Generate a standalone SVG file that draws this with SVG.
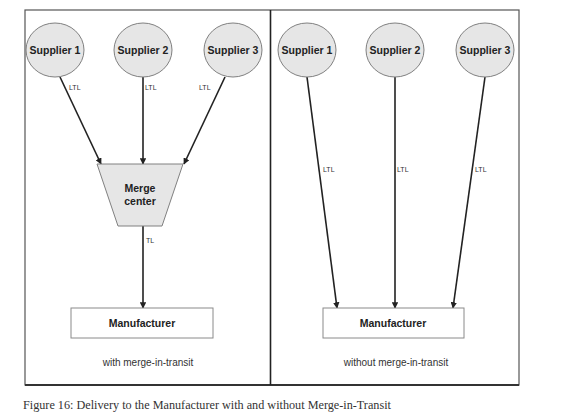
<svg xmlns="http://www.w3.org/2000/svg" width="571" height="420" viewBox="0 0 571 420">
<defs>
<style>
.sup{fill:#e6e6e6;stroke:#808080;stroke-width:1}
.box{fill:#fff;stroke:#8a8a8a;stroke-width:1}
.bt{font-family:"Liberation Sans",Arial,sans-serif;font-weight:bold;font-size:10.5px;fill:#222;text-anchor:middle}
.lbl{font-family:"Liberation Sans",Arial,sans-serif;font-size:7px;fill:#333}
.cap{font-family:"Liberation Sans",Arial,sans-serif;font-size:10px;fill:#333;text-anchor:middle}
.edge{stroke:#222;stroke-width:1.6;fill:none;marker-end:url(#ah)}
</style>
<marker id="ah" viewBox="0 0 10 10" refX="9" refY="5" markerWidth="4" markerHeight="4" orient="auto" markerUnits="strokeWidth">
<path d="M0,0 L10,5 L0,10 z" fill="#222"/>
</marker>
</defs>
<rect x="0" y="0" width="571" height="420" fill="#fff"/>
<g id="frame">
<rect x="25" y="10" width="494" height="375" fill="none" stroke="#555" stroke-width="1.2"/>
<line x1="25" y1="385" x2="519" y2="385" stroke="#333" stroke-width="1.8"/>
<line x1="270.5" y1="10" x2="270.5" y2="385" stroke="#222" stroke-width="1.6"/>
</g>
<g id="connectors">
<line class="edge" x1="60" y1="77" x2="101" y2="164"/>
<line class="edge" x1="143" y1="77" x2="143" y2="164"/>
<line class="edge" x1="225" y1="77" x2="184" y2="164"/>
<line class="edge" x1="143" y1="226" x2="143" y2="308"/>
<line class="edge" x1="307" y1="77" x2="337" y2="308"/>
<line class="edge" x1="395" y1="77" x2="395" y2="308"/>
<line class="edge" x1="485" y1="77" x2="453" y2="308"/>
<text class="lbl" x="69" y="90">LTL</text>
<text class="lbl" x="145" y="90">LTL</text>
<text class="lbl" x="199" y="90">LTL</text>
<text class="lbl" x="146" y="243">TL</text>
<text class="lbl" x="323" y="172">LTL</text>
<text class="lbl" x="397" y="172">LTL</text>
<text class="lbl" x="475" y="172">LTL</text>
</g>
<g id="l-supplier1"><ellipse class="sup" cx="55" cy="50" rx="29" ry="27"/><text class="bt" x="55" y="54">Supplier 1</text></g>
<g id="l-supplier2"><ellipse class="sup" cx="143" cy="50" rx="29" ry="27"/><text class="bt" x="143" y="54">Supplier 2</text></g>
<g id="l-supplier3"><ellipse class="sup" cx="233" cy="50" rx="29" ry="27"/><text class="bt" x="233" y="54">Supplier 3</text></g>
<g id="merge-center"><polygon class="sup" points="97,164 183,164 162,226 118,226"/><text class="bt" x="140" y="192">Merge</text><text class="bt" x="140" y="205">center</text></g>
<g id="l-manufacturer"><rect class="box" x="71" y="308" width="142" height="30"/><text class="bt" x="142" y="327">Manufacturer</text></g>
<g id="r-supplier1"><ellipse class="sup" cx="307" cy="50" rx="29" ry="27"/><text class="bt" x="307" y="54">Supplier 1</text></g>
<g id="r-supplier2"><ellipse class="sup" cx="395" cy="50" rx="29" ry="27"/><text class="bt" x="395" y="54">Supplier 2</text></g>
<g id="r-supplier3"><ellipse class="sup" cx="485" cy="50" rx="29" ry="27"/><text class="bt" x="485" y="54">Supplier 3</text></g>
<g id="r-manufacturer"><rect class="box" x="323" y="308" width="141" height="30"/><text class="bt" x="393" y="327">Manufacturer</text></g>
<text class="cap" x="148" y="366">with merge-in-transit</text>
<text class="cap" x="396" y="366">without merge-in-transit</text>
<text x="23" y="409" font-family="Liberation Serif,'Times New Roman',serif" font-size="12.2px" fill="#333">Figure 16: Delivery to the Manufacturer with and without Merge-in-Transit</text>
</svg>
